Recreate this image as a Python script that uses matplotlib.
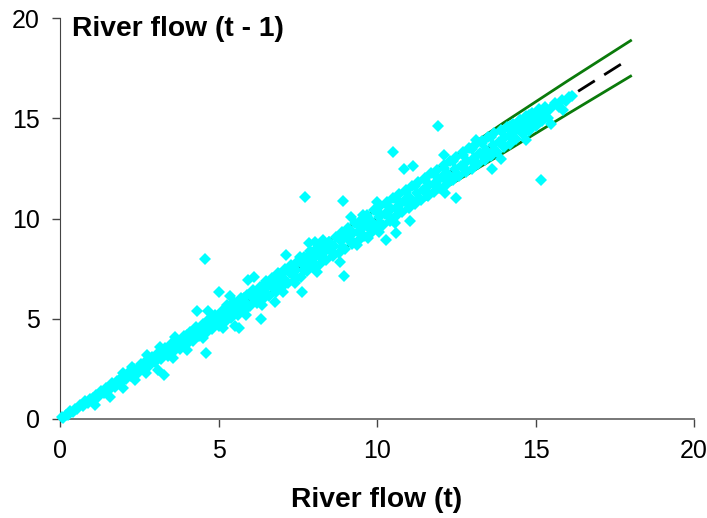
#!/usr/bin/env python3

import matplotlib.pyplot as plt

plt.rcParams["font.family"] = ["Liberation Sans", "DejaVu Sans"]

# model line and its confidence limits
line_t = [0, 2, 4, 6, 8, 10, 12, 14, 16, 18]
line_upper = [0, 2.1, 4.2, 6.3, 8.4, 10.5, 12.62, 14.78, 16.85, 18.87]
line_lower = [0, 1.9, 3.8, 5.7, 7.6, 9.5, 11.4, 13.28, 15.2, 17.1]
mean_t = [0, 17.7]
mean_prev = [0, 17.7]

# edges of the main band of observations
band_t = [
    0.05, 0.10, 0.18, 0.25, 0.32, 0.40, 0.48, 0.55, 0.63, 0.72, 0.80, 0.88,
    0.95, 1.05, 1.12, 1.20, 1.30, 1.38, 1.45, 1.55, 1.65, 1.72, 1.80, 1.90,
    2.00, 2.08, 2.15, 2.25, 2.35, 2.45, 2.55, 2.62, 2.70, 2.80, 2.90, 3.00,
    3.10, 3.20, 3.30, 3.40, 3.50, 3.60, 3.70, 3.80, 3.90, 4.00, 4.10, 4.20,
    4.30, 4.40, 4.50, 4.60, 4.70, 4.80, 4.90, 5.00, 5.10, 5.20, 5.30, 5.40,
    5.50, 5.60, 5.70, 5.80, 5.90, 6.00, 6.10, 6.20, 6.30, 6.40, 6.50, 6.60,
    6.70, 6.80, 6.90, 7.00, 7.10, 7.20, 7.30, 7.40, 7.50, 7.60, 7.70, 7.80,
    7.90, 8.00, 8.10, 8.20, 8.30, 8.40, 8.50, 8.60, 8.70, 8.80, 8.90, 9.00,
    9.10, 9.20, 9.30, 9.40, 9.50, 9.60, 9.70, 9.80, 9.90, 10.00, 10.10, 10.20,
    10.30, 10.40, 10.50, 10.60, 10.70, 10.80, 10.90, 11.00, 11.10, 11.20, 11.30, 11.40,
    11.50, 11.60, 11.70, 11.80, 11.90, 12.00, 12.10, 12.20, 12.30, 12.40, 12.50, 12.60,
    12.70, 12.80, 12.90, 13.00, 13.10, 13.20, 13.30, 13.40, 13.50, 13.60, 13.70, 13.80,
    13.90, 14.00, 14.10, 14.20, 14.30, 14.40, 14.50, 14.60, 14.70, 14.80, 14.90, 15.00,
    15.10, 15.20, 15.30, 15.40, 15.60, 15.75, 15.85, 15.95, 16.05, 16.14,
]
band_prev = [
    0.08, 0.06, 0.22, 0.21, 0.38, 0.35, 0.52, 0.50, 0.70, 0.65, 0.88, 0.80,
    1.02, 1.00, 1.22, 1.12, 1.38, 1.30, 1.56, 1.45, 1.78, 1.62, 1.90, 1.80,
    2.14, 2.00, 2.30, 2.12, 2.48, 2.30, 2.72, 2.48, 2.88, 2.65, 3.08, 2.82,
    3.30, 3.00, 3.55, 3.15, 3.72, 3.38, 3.95, 3.50, 4.15, 3.75, 4.35, 3.90,
    4.60, 4.15, 4.75, 4.30, 5.00, 4.50, 5.20, 4.65, 5.40, 4.85, 5.60, 5.05,
    5.85, 5.20, 6.05, 5.40, 6.20, 5.65, 6.45, 5.80, 6.60, 6.00, 6.90, 6.15,
    7.05, 6.35, 7.25, 6.60, 7.50, 6.80, 7.70, 6.95, 7.90, 7.10, 8.10, 7.40,
    8.40, 7.60, 8.55, 7.75, 8.75, 7.95, 8.85, 8.15, 9.10, 8.30, 9.35, 8.50,
    9.55, 8.75, 9.80, 8.90, 9.95, 9.15, 10.15, 9.30, 10.40, 9.55, 10.60, 9.70,
    10.80, 9.90, 11.00, 10.10, 11.20, 10.30, 11.40, 10.50, 11.60, 10.70, 11.80, 10.90,
    12.00, 11.10, 12.25, 11.30, 12.40, 11.50, 12.65, 11.70, 12.85, 11.90, 13.05, 12.10,
    13.30, 12.30, 13.50, 12.45, 13.65, 12.70, 13.85, 12.90, 14.05, 13.10, 14.25, 13.30,
    14.40, 13.55, 14.55, 13.70, 14.70, 13.95, 14.90, 14.20, 15.10, 14.35, 15.25, 14.60,
    15.45, 14.85, 15.55, 15.00, 15.76, 15.55, 15.90, 15.85, 16.05, 16.11,
]

# middle of the band
core_t = [
    1.05, 1.25, 1.45, 1.65, 1.85, 2.05, 2.25, 2.45, 2.85, 3.05, 3.25, 3.45,
    3.65, 3.85, 4.05, 4.25, 4.45, 4.65, 4.85, 5.05, 5.25, 5.45, 5.65, 5.85,
    6.05, 6.25, 6.45, 6.65, 6.85, 7.05, 7.25, 7.45, 7.65, 7.85, 8.05, 8.25,
    8.45, 8.65, 8.85, 9.05, 9.25, 9.45, 9.65, 9.85, 10.05, 10.25, 10.45, 10.65,
    10.85, 11.05, 11.25, 11.45, 11.65, 11.85, 12.05, 12.25, 12.45, 12.65, 12.85, 13.05,
    13.25, 13.45, 13.65, 13.85, 14.05, 14.25, 14.45, 14.65, 14.85, 15.05, 15.25, 15.45,
]
core_prev = [
    1.05, 1.27, 1.43, 1.66, 1.84, 2.07, 2.24, 2.47, 2.86, 3.06, 3.24, 3.46,
    3.66, 3.84, 4.06, 4.24, 4.46, 4.64, 4.86, 5.04, 5.27, 5.44, 5.67, 5.84,
    6.07, 6.24, 6.47, 6.64, 6.87, 7.04, 7.27, 7.44, 7.67, 7.84, 8.07, 8.24,
    8.47, 8.64, 8.87, 9.04, 9.27, 9.44, 9.67, 9.84, 10.07, 10.24, 10.47, 10.64,
    10.87, 11.04, 11.27, 11.44, 11.67, 11.84, 12.07, 12.24, 12.47, 12.64, 12.87, 13.04,
    13.27, 13.44, 13.67, 13.84, 14.07, 14.24, 14.47, 14.64, 14.87, 15.04, 15.24, 15.44,
]

# rows either side of the middle
inner_t = [
    3.1, 3.4, 3.7, 4.0, 4.3, 4.6, 4.9, 5.2, 5.5, 5.8, 6.1, 6.4, 6.7, 7.0, 7.3, 7.6,
    7.9, 8.2, 8.5, 8.8, 9.1, 9.4, 9.7, 10.0, 10.3, 10.6, 10.9, 11.2, 11.5, 11.8, 12.1, 12.4,
    12.7, 13.0, 13.3, 13.6, 13.9, 14.2, 14.5, 14.8, 15.1,
    3.2, 3.5, 3.8, 4.1, 4.4, 4.7, 5.0, 5.3, 5.6, 5.9, 6.2, 6.5, 6.8, 7.1, 7.4, 7.7,
    8.0, 8.3, 8.6, 8.9, 9.2, 9.5, 9.8, 10.1, 10.4, 10.7, 11.0, 11.3, 11.6, 11.9, 12.2, 12.5,
    12.8, 13.1, 13.4, 13.7, 14.0, 14.3, 14.6, 14.9, 15.2,
]
inner_prev = [
    3.25, 3.55, 3.85, 4.18, 4.48, 4.78, 5.10, 5.40, 5.70, 6.02, 6.33, 6.62, 6.95, 7.25, 7.55, 7.88,
    8.22, 8.50, 8.82, 9.12, 9.45, 9.75, 10.05, 10.38, 10.68, 10.98, 11.30, 11.62, 11.90, 12.22, 12.52, 12.85,
    13.15, 13.45, 13.75, 14.05, 14.35, 14.62, 14.92, 15.18, 15.42,
    3.08, 3.38, 3.66, 3.95, 4.25, 4.52, 4.82, 5.12, 5.40, 5.68, 5.98, 6.28, 6.55, 6.84, 7.12, 7.42,
    7.72, 8.00, 8.30, 8.58, 8.88, 9.18, 9.45, 9.78, 10.05, 10.35, 10.65, 10.95, 11.25, 11.55, 11.85, 12.12,
    12.42, 12.72, 13.02, 13.32, 13.62, 13.95, 14.25, 14.58, 14.90,
]

# bumps on the edge of the band
bump_t = [
    7.85, 8.05, 8.30, 7.57, 6.88, 5.26, 9.99, 9.55, 3.63, 3.15, 2.73, 2.26,
    1.99, 8.83, 8.10, 7.41, 7.03, 6.36, 5.87, 5.14, 4.50, 10.57, 10.06, 9.72,
    9.36, 4.00, 3.57, 3.09, 2.71, 2.37, 1.99, 1.58, 1.10,
]
bump_prev = [
    8.80, 8.85, 8.95, 8.10, 7.28, 5.69, 10.84, 10.17, 4.10, 3.60, 3.19, 2.61,
    2.29, 7.85, 7.35, 6.78, 6.35, 5.69, 5.19, 4.54, 4.04, 9.77, 9.34, 9.03,
    8.68, 3.44, 3.04, 2.44, 2.29, 1.95, 1.55, 1.11, 0.70,
]

# points standing clear of the band
stray_t = [
    7.73, 8.93, 9.19, 4.57, 7.12, 5.92, 6.13, 5.00, 5.35, 4.32, 4.67, 7.63,
    6.34, 6.78, 8.96, 10.29, 10.61, 11.03, 10.86, 11.13, 5.52, 5.66, 11.93, 15.16,
    12.11, 13.92, 13.62, 13.12, 12.16, 12.49, 15.86, 15.48, 14.70, 4.60, 3.27, 10.50,
]
stray_prev = [
    11.09, 10.89, 10.09, 7.98, 8.18, 6.95, 7.10, 6.33, 6.13, 5.39, 5.39, 6.33,
    4.99, 5.85, 7.15, 8.93, 9.26, 9.89, 12.47, 12.60, 4.64, 4.55, 14.63, 11.92,
    13.17, 12.98, 12.45, 13.91, 11.27, 11.02, 15.41, 14.71, 13.91, 3.29, 2.19, 13.30,
]

ticks = [0, 5, 10, 15, 20]

fig = plt.figure(figsize=(7.07, 5.18), dpi=100)
ax = fig.add_axes([60 / 707, 1 - 419 / 518, 634 / 707, 401 / 518])

ax.plot(line_t, line_upper, color="#0a7a0a", lw=2, zorder=2)
ax.plot(line_t, line_lower, color="#0a7a0a", lw=2, zorder=2)
ax.plot(mean_t, mean_prev, color="black", lw=2, ls=(1.3, (7.1, 4)), zorder=2)

marks = [
    (band_t, band_prev),
    (core_t, core_prev),
    (inner_t, inner_prev),
    (bump_t, bump_prev),
    (stray_t, stray_prev),
]
for xs, ys in marks:
    ax.plot(xs, ys, "D", color="#00ffff", ms=5.8, mew=0, zorder=3, clip_on=False)

ax.set_xlim(0, 20)
ax.set_ylim(0, 20)
ax.set_xticks(ticks)
ax.set_yticks(ticks)
ax.tick_params(length=5.5, width=1, color="#444444", labelsize=18, pad=9)
for side in ("top", "right"):
    ax.spines[side].set_visible(False)
ax.spines["left"].set_color("#444444")
ax.spines["bottom"].set_color("#777777")
ax.spines["bottom"].set_linewidth(1.4)

ax.set_xlabel("River flow (t)", fontsize=20.3, fontweight="bold", labelpad=17)
ax.text(0.37, 19.45, "River flow (t - 1)", fontsize=20.3, fontweight="bold", va="center")

fig.savefig("out.png", dpi=100)
